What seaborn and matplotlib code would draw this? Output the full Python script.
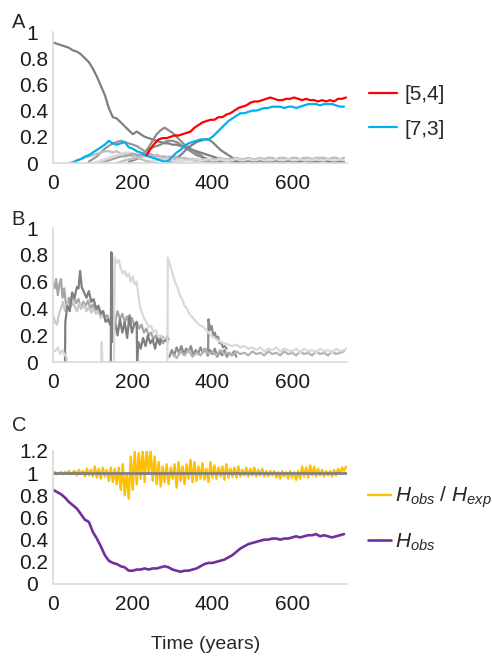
import numpy as np
import matplotlib
matplotlib.use("Agg")
import matplotlib.pyplot as plt
import seaborn as sns

# ---- panel A: allele frequencies ----
red_years = np.arange(235, 745, 10)
red_vals = [0.06, 0.11, 0.15, 0.18, 0.19, 0.19, 0.20, 0.21, 0.21, 0.22,
            0.23, 0.24, 0.27, 0.29, 0.31, 0.32, 0.33, 0.33, 0.35, 0.35,
            0.37, 0.38, 0.40, 0.42, 0.43, 0.44, 0.46, 0.47, 0.47, 0.48,
            0.49, 0.50, 0.49, 0.48, 0.48, 0.49, 0.49, 0.50, 0.49, 0.48,
            0.49, 0.48, 0.48, 0.47, 0.48, 0.47, 0.48, 0.47, 0.49, 0.49, 0.50]
blue_years = np.arange(50, 740, 10)
blue_vals = [0.00, 0.02, 0.03, 0.05, 0.06, 0.08, 0.10, 0.12, 0.14, 0.17,
             0.15, 0.14, 0.15, 0.16, 0.12, 0.11, 0.09, 0.08, 0.06, 0.05,
             0.04, 0.03, 0.02, 0.01, 0.02, 0.05, 0.08, 0.10, 0.13, 0.15,
             0.16, 0.17, 0.18, 0.18, 0.18, 0.20, 0.23, 0.26, 0.29, 0.32,
             0.34, 0.36, 0.38, 0.38, 0.39, 0.40, 0.40, 0.41, 0.42, 0.42,
             0.43, 0.43, 0.43, 0.42, 0.43, 0.43, 0.42, 0.43, 0.44, 0.45,
             0.45, 0.45, 0.44, 0.45, 0.45, 0.45, 0.44, 0.43, 0.43]

# other alleles in panel A: (start year, values every 10 yrs, colour)
a_grey_lines = [
    (0, [0.92, 0.91, 0.90, 0.89, 0.88, 0.86, 0.85, 0.83, 0.80, 0.77,
         0.72, 0.66, 0.59, 0.52, 0.42, 0.35, 0.34, 0.31, 0.28, 0.25,
         0.22, 0.24, 0.22, 0.20, 0.19, 0.18, 0.17, 0.16, 0.15, 0.15,
         0.14, 0.14, 0.13, 0.12, 0.11, 0.10, 0.09, 0.08, 0.07, 0.06,
         0.05, 0.04, 0.03, 0.02, 0.02, 0.01, 0.01, 0.00, 0.00], "#7f7f7f"),
    (190, [0.01, 0.02, 0.03, 0.05, 0.08, 0.12, 0.17, 0.22, 0.25, 0.27,
           0.25, 0.23, 0.20, 0.17, 0.14, 0.12, 0.10, 0.08, 0.06, 0.04,
           0.03, 0.02, 0.01, 0.01, 0.00], "#8c8c8c"),
    (200, [0.02, 0.04, 0.06, 0.08, 0.10, 0.12, 0.13, 0.14, 0.16, 0.17,
           0.17, 0.16, 0.14, 0.12, 0.10, 0.08, 0.06, 0.05, 0.03, 0.02,
           0.01, 0.01, 0.00], "#8c8c8c"),
    (90, [0.01, 0.03, 0.05, 0.08, 0.11, 0.13, 0.15, 0.16, 0.17, 0.16,
          0.15, 0.14, 0.13, 0.11, 0.09, 0.07, 0.06, 0.04, 0.03, 0.02,
          0.01, 0.00], "#999999"),
    (290, [0.01, 0.02, 0.04, 0.06, 0.09, 0.12, 0.14, 0.16, 0.17, 0.18,
           0.18, 0.16, 0.13, 0.10, 0.08, 0.06, 0.04, 0.02, 0.01, 0.00], "#808080"),
    (40, [0.00, 0.01, 0.02, 0.03, 0.04, 0.05, 0.06, 0.07, 0.08, 0.09,
          0.09, 0.08, 0.09, 0.07, 0.07, 0.06, 0.05, 0.04, 0.03, 0.02,
          0.01, 0.01, 0.00], "#bfbfbf"),
    (100, [0.00, 0.01, 0.02, 0.03, 0.04, 0.05, 0.06, 0.07, 0.08, 0.08,
           0.07, 0.07, 0.06, 0.06, 0.05, 0.05, 0.04, 0.04, 0.03, 0.02,
           0.02, 0.01, 0.01, 0.00], "#d9d9d9"),
    (120, [0.00, 0.01, 0.02, 0.03, 0.04, 0.05, 0.05, 0.06, 0.07, 0.06,
           0.06, 0.07, 0.06, 0.05, 0.06, 0.05, 0.05, 0.04, 0.05, 0.04,
           0.04, 0.03, 0.03, 0.02, 0.02, 0.02, 0.01, 0.01, 0.00], "#a6a6a6"),
    (160, [0.00, 0.01, 0.02, 0.03, 0.03, 0.04, 0.05, 0.05, 0.06, 0.05,
           0.06, 0.05, 0.04, 0.05, 0.04, 0.04, 0.03, 0.04, 0.03, 0.03,
           0.03, 0.02, 0.03, 0.03, 0.02, 0.03, 0.03, 0.03, 0.03, 0.03], "#bfbfbf"),
    (400, [0.03, 0.03, 0.04, 0.03, 0.03, 0.03, 0.04, 0.03, 0.03, 0.04,
           0.03, 0.03, 0.04, 0.03, 0.04, 0.04, 0.03, 0.04, 0.04, 0.03,
           0.04, 0.04, 0.03, 0.04, 0.04, 0.03, 0.04, 0.04, 0.04, 0.03,
           0.04, 0.04, 0.03, 0.04], "#bfbfbf"),
    (470, [0.01, 0.01, 0.02, 0.01, 0.01, 0.02, 0.01, 0.01, 0.01, 0.02,
           0.01, 0.01, 0.02, 0.01, 0.01, 0.01, 0.02, 0.01, 0.01, 0.01,
           0.01, 0.02, 0.01, 0.01, 0.01, 0.01, 0.01], "#808080"),
    (250, [0.01, 0.02, 0.03, 0.02, 0.03, 0.02, 0.02, 0.03, 0.02, 0.02,
           0.02, 0.03, 0.02, 0.02, 0.03, 0.02, 0.02, 0.03, 0.02, 0.02,
           0.02, 0.03, 0.02, 0.02, 0.03, 0.02, 0.02, 0.03, 0.02, 0.02,
           0.02, 0.03, 0.02, 0.02, 0.03, 0.02, 0.02, 0.03, 0.02, 0.02,
           0.02, 0.03, 0.02, 0.02, 0.03, 0.02, 0.02, 0.03, 0.02], "#d9d9d9"),
]

# ---- panel B: (years, values, colour) segments ----
b_segments = [
    ([0, 4, 8, 12, 16, 20, 24, 28, 32, 36, 40, 46, 52, 58, 64, 70, 76, 82, 88, 94,
      100, 106, 112, 118, 124, 130, 136, 142],
     [0.60, 0.55, 0.62, 0.50, 0.58, 0.62, 0.48, 0.55, 0.45, 0.40, 0.48, 0.42, 0.50,
      0.44, 0.47, 0.40, 0.45, 0.42, 0.46, 0.40, 0.43, 0.38, 0.41, 0.36, 0.38, 0.33,
      0.35, 0.30], "#a6a6a6"),
    ([150, 156, 162, 168, 174, 180, 186, 192, 198, 204, 210, 216, 222, 228, 234, 240,
      246, 252, 258, 264, 270, 276, 282, 288],
     [0.36, 0.30, 0.38, 0.32, 0.36, 0.30, 0.34, 0.28, 0.33, 0.27, 0.30, 0.25, 0.28,
      0.22, 0.25, 0.20, 0.22, 0.17, 0.20, 0.15, 0.18, 0.14, 0.17, 0.15], "#a6a6a6"),
    ([0, 5, 10, 15, 20, 25, 30, 36, 42, 48, 54, 60, 66, 72, 78, 84, 90, 96, 102, 108,
      114, 120, 126, 132, 138],
     [0.35, 0.30, 0.28, 0.36, 0.40, 0.45, 0.38, 0.44, 0.40, 0.46, 0.42, 0.38, 0.44,
      0.40, 0.43, 0.38, 0.41, 0.37, 0.40, 0.36, 0.38, 0.33, 0.36, 0.31, 0.32], "#c8c8c8"),
    ([30, 31, 36, 42, 48, 54, 60, 64, 68, 72, 78, 84, 90, 96, 102, 108, 114, 120, 126,
      132, 138, 143],
     [0.00, 0.30, 0.42, 0.38, 0.52, 0.48, 0.56, 0.55, 0.68, 0.56, 0.52, 0.48, 0.53,
      0.45, 0.47, 0.40, 0.42, 0.36, 0.38, 0.30, 0.32, 0.28], "#7f7f7f"),
    ([145, 146, 148, 150, 156, 162, 168, 174, 180, 186, 192, 198, 204, 210, 211, 214,
      220, 226, 232, 238, 244, 250, 256, 262, 268, 274, 280, 286, 290],
     [0.00, 0.82, 0.80, 0.15, 0.30, 0.20, 0.32, 0.22, 0.30, 0.18, 0.35, 0.22, 0.28,
      0.30, 0.00, 0.15, 0.10, 0.18, 0.12, 0.20, 0.14, 0.17, 0.10, 0.18, 0.13, 0.19,
      0.16, 0.19, 0.17], "#7f7f7f"),
    ([292, 298, 304, 310, 316, 322, 328, 334, 340, 346, 352, 358, 364, 370, 376, 382,
      388, 394, 400, 406, 412, 418, 424, 430, 436, 442, 448, 454, 460],
     [0.04, 0.09, 0.05, 0.11, 0.07, 0.12, 0.06, 0.10, 0.08, 0.12, 0.05, 0.09, 0.06,
      0.11, 0.07, 0.10, 0.05, 0.09, 0.06, 0.10, 0.04, 0.08, 0.05, 0.09, 0.04, 0.07,
      0.05, 0.08, 0.04], "#8c8c8c"),
    ([389, 390, 394, 398, 402, 406, 410, 414, 418, 422, 426, 430, 436],
     [0.05, 0.32, 0.24, 0.27, 0.20, 0.22, 0.17, 0.19, 0.14, 0.15, 0.11, 0.12, 0.10],
     "#8c8c8c"),
    ([0, 6, 12, 18, 24, 30, 34, 35],
     [0.10, 0.08, 0.11, 0.06, 0.09, 0.05, 0.04, 0.00], "#d9d9d9"),
    ([121, 122, 124], [0.00, 0.15, 0.00], "#d9d9d9"),
    ([153, 155, 160, 165, 170, 175, 180, 185, 190, 195, 200, 205, 210, 214, 218, 222,
      228, 234, 240, 246, 252, 258, 264, 270, 276, 282],
     [0.00, 0.78, 0.74, 0.76, 0.70, 0.66, 0.68, 0.64, 0.66, 0.60, 0.64, 0.58, 0.60,
      0.50, 0.42, 0.38, 0.33, 0.30, 0.26, 0.27, 0.22, 0.24, 0.19, 0.20, 0.17, 0.18],
     "#d9d9d9"),
    (list(np.arange(300, 740, 10)),
     [0.06, 0.03, 0.08, 0.05, 0.09, 0.04, 0.07, 0.05, 0.10, 0.06,
      0.08, 0.05, 0.09, 0.06, 0.07, 0.05, 0.08, 0.06, 0.07, 0.05,
      0.08, 0.06, 0.07, 0.05, 0.08, 0.06, 0.07, 0.05, 0.08, 0.06,
      0.07, 0.05, 0.08, 0.06, 0.07, 0.05, 0.08, 0.06, 0.07, 0.05,
      0.08, 0.06, 0.07, 0.08], "#b3b3b3"),
    ([287, 288, 294, 300, 306, 312, 318, 324, 330, 336, 342, 348, 354, 360, 366, 372,
      378, 384, 390, 400, 410, 420, 430, 440, 450, 460, 470, 480, 490, 500, 510, 520,
      530, 540, 550, 560, 570, 580, 590, 600, 610, 620, 630, 640, 650, 660, 670, 680,
      690, 700, 710, 720, 730, 735],
     [0.00, 0.78, 0.72, 0.66, 0.60, 0.56, 0.50, 0.47, 0.42, 0.40, 0.36, 0.34, 0.32,
      0.30, 0.28, 0.27, 0.26, 0.24, 0.22, 0.19, 0.17, 0.15, 0.14, 0.13, 0.12, 0.13,
      0.11, 0.12, 0.10, 0.11, 0.09, 0.11, 0.08, 0.10, 0.09, 0.11, 0.08, 0.10, 0.09,
      0.08, 0.10, 0.07, 0.10, 0.08, 0.09, 0.07, 0.10, 0.08, 0.09, 0.07, 0.10, 0.08,
      0.09, 0.10], "#d9d9d9"),
]

# ---- panel C: heterozygosity ----
ratio_years = np.arange(0, 740, 5)
ratio_vals = [1.00, 1.01, 0.99, 1.00, 1.01, 0.99, 1.01, 1.00, 1.02, 0.99, 1.01,
              1.02, 0.98, 1.03, 0.99, 1.02, 0.97, 1.04, 0.98, 1.03, 0.97,
              1.06, 0.96, 1.04, 0.95, 1.05, 0.97, 1.03, 0.93, 1.05, 0.92,
              1.04, 0.90, 1.05, 0.85, 1.08, 0.80, 1.00, 0.77, 1.15, 0.85,
              1.20, 0.90, 1.18, 0.95, 1.20, 0.92, 1.22, 1.00, 1.20, 0.93, 1.15, 0.90,
              1.10, 0.88, 1.06, 0.92, 1.08, 0.90, 1.05, 0.95,
              1.08, 0.87, 1.10, 0.93, 1.06, 0.90, 1.08, 0.95, 1.12, 0.92,
              1.10, 0.93, 1.06, 0.95, 1.09, 0.94, 1.04, 0.92, 1.10, 0.96,
              1.07, 0.95, 1.05, 0.97, 1.06, 0.94, 1.08, 0.96, 1.04, 0.97,
              1.05, 0.96, 1.06, 0.97, 1.03, 0.98, 1.05, 0.97, 1.04, 0.98,
              1.05, 0.97, 1.03, 0.98, 1.04, 0.97, 1.02, 0.97, 1.02, 0.98,
              1.02, 0.96, 1.01, 0.95, 1.02, 0.97, 1.01, 0.95, 1.02, 0.96,
              1.01, 0.94, 1.02, 0.95, 1.06, 0.97, 1.05, 0.96, 1.07, 0.98,
              1.06, 0.97, 1.04, 0.98, 1.03, 0.97, 1.02, 0.98, 1.02, 0.97,
              1.03, 0.98, 1.04, 0.99, 1.05, 1.02, 1.06]
hobs_years = np.arange(0, 740, 10)
hobs_vals = [0.85, 0.83, 0.81, 0.78, 0.74, 0.71, 0.68, 0.63, 0.58, 0.56,
             0.47, 0.41, 0.34, 0.26, 0.21, 0.19, 0.18, 0.16, 0.15, 0.12,
             0.12, 0.13, 0.13, 0.14, 0.13, 0.14, 0.14, 0.15, 0.16, 0.15,
             0.13, 0.12, 0.11, 0.12, 0.12, 0.13, 0.14, 0.16, 0.18, 0.19,
             0.19, 0.20, 0.21, 0.22, 0.24, 0.26, 0.29, 0.32, 0.34, 0.36,
             0.37, 0.38, 0.39, 0.40, 0.40, 0.41, 0.41, 0.40, 0.41, 0.41,
             0.42, 0.43, 0.42, 0.43, 0.44, 0.44, 0.45, 0.43, 0.44, 0.43,
             0.42, 0.43, 0.44, 0.45]
ref_years = [0, 735]
ref_vals = [1, 1]

yticks_ab = [0, 0.2, 0.4, 0.6, 0.8, 1]
ylabels_ab = ["0", "0.2", "0.4", "0.6", "0.8", "1"]
yticks_c = [0, 0.2, 0.4, 0.6, 0.8, 1, 1.2]
ylabels_c = ["0", "0.2", "0.4", "0.6", "0.8", "1", "1.2"]
xticks = [0, 200, 400, 600]

sns.set_theme(style="white")
plt.rcParams['font.family'] = ['Liberation Sans', 'DejaVu Sans']
plt.rcParams['mathtext.fontset'] = 'custom'
plt.rcParams['mathtext.rm'] = 'Liberation Sans'
plt.rcParams['mathtext.it'] = 'Liberation Sans:italic'

fig = plt.figure(figsize=(4.92, 6.56), dpi=100)
axA = fig.add_axes([0.1077, 0.7515, 0.598, 0.1997])
axB = fig.add_axes([0.1077, 0.448, 0.598, 0.2043])
axC = fig.add_axes([0.1077, 0.1098, 0.598, 0.2027])
lw = 1.6

for start, vals, col in a_grey_lines:
    yrs = start + 10 * np.arange(len(vals))
    sns.lineplot(x=yrs, y=vals, ax=axA, color=col, linewidth=lw,
                 estimator=None, sort=False, legend=False)
sns.lineplot(x=blue_years, y=blue_vals, ax=axA, color="#00b0f0", linewidth=lw,
             estimator=None, sort=False, label="[7,3]")
sns.lineplot(x=red_years, y=red_vals, ax=axA, color="#ff0000", linewidth=lw,
             estimator=None, sort=False, label="[5,4]")

for yrs, vals, col in b_segments:
    sns.lineplot(x=yrs, y=vals, ax=axB, color=col, linewidth=lw,
                 estimator=None, sort=False, legend=False)

sns.lineplot(x=ratio_years, y=ratio_vals, ax=axC, color="#ffc000", linewidth=1.7,
             estimator=None, sort=False, label=r"$H_{obs}$ / $H_{exp}$")
sns.lineplot(x=hobs_years, y=hobs_vals, ax=axC, color="#7030a0", linewidth=1.9,
             estimator=None, sort=False, label=r"$H_{obs}$")
sns.lineplot(x=ref_years, y=ref_vals, ax=axC, color="#808080", linewidth=2,
             estimator=None, sort=False, legend=False)

for ax, ticks, labels, ymax in [(axA, yticks_ab, ylabels_ab, 1.0),
                                 (axB, yticks_ab, ylabels_ab, 1.0),
                                 (axC, yticks_c, ylabels_c, 1.2)]:
    ax.set_xlim(0, 738)
    ax.set_ylim(0, ymax)
    ax.set_xticks(xticks, labels=[str(t) for t in xticks])
    ax.set_yticks(ticks, labels=labels)
    ax.set_xlabel("")
    ax.set_ylabel("")
    ax.tick_params(length=0, labelsize=15, colors="#1a1a1a")
    ax.tick_params(axis="x", pad=8)
    ax.tick_params(axis="y", pad=3.5)
    for side in ["top", "right"]:
        ax.spines[side].set_visible(False)
    for side in ["left", "bottom"]:
        ax.spines[side].set_color("#d9d9d9")
        ax.spines[side].set_linewidth(1.2)
    # integer labels sit further left, like the original
    for lab in ax.get_yticklabels():
        if "." not in lab.get_text():
            lab.set_x(-10 / 294)

h, l = axA.get_legend_handles_labels()
axA.legend(h[::-1], l[::-1], loc="center left", bbox_to_anchor=(1.075, 0.39),
           frameon=False, fontsize=15, handlelength=1.35, handletextpad=0.35,
           labelspacing=0.75, borderpad=0, borderaxespad=0)
axC.legend(loc="center left", bbox_to_anchor=(1.072, 0.49), frameon=False,
           fontsize=15, handlelength=1.1, handletextpad=0.2, labelspacing=1.0,
           borderpad=0, borderaxespad=0)

fig.text(0.024, 0.957, "A", fontsize=14.5, va="baseline")
fig.text(0.024, 0.657, "B", fontsize=14.5, va="baseline")
fig.text(0.024, 0.343, "C", fontsize=14.5, va="baseline")
fig.text(0.418, 0.01, "Time (years)", fontsize=14, ha="center", va="baseline")

fig.savefig("out.png", dpi=100)
